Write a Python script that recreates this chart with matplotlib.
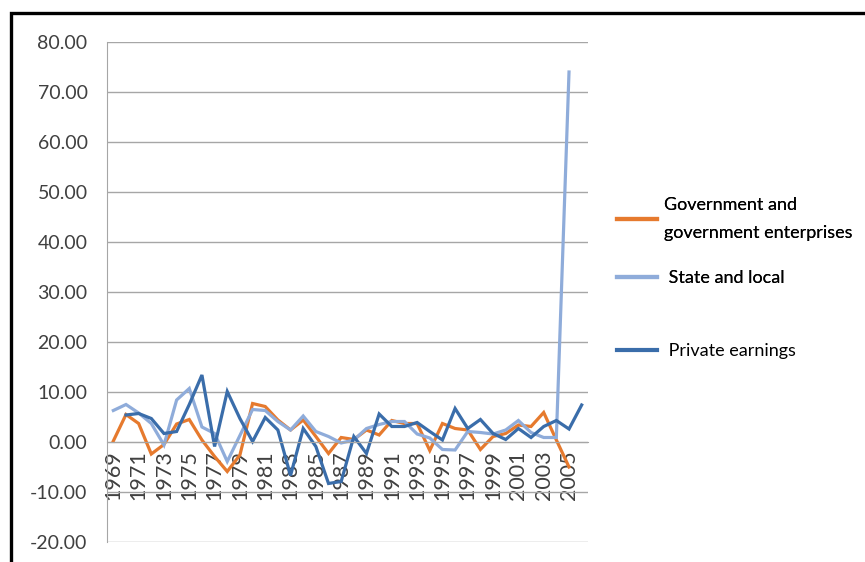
import numpy as np
import matplotlib
matplotlib.use('Agg')
import matplotlib.pyplot as plt
from matplotlib.patches import Rectangle
from matplotlib.lines import Line2D

years = list(range(1969, 2007))

government = [0.2, 5.5, 3.7, -2.4, -0.5, 3.6, 4.5, 0.4, -2.9, -5.9,
              -2.6, 7.7, 7.1, 4.4, 2.4, 4.4, 1.1, -2.3, 0.9, 0.5,
              2.4, 1.4, 4.3, 3.7, 3.7, -1.7, 3.7, 2.7, 2.4, -1.5,
              1.1, 1.7, 3.4, 3.1, 5.9, 0.4, -5.0]

state_local = [6.3, 7.5, 5.8, 3.7, -0.6, 8.4, 10.7, 3.0, 1.7, -3.9,
               1.3, 6.5, 6.3, 4.1, 2.4, 5.2, 2.1, 1.1, -0.2, 0.4,
               2.7, 3.5, 4.1, 4.1, 1.6, 0.8, -1.5, -1.6, 2.1, 1.9,
               1.6, 2.4, 4.3, 1.9, 0.9, 0.9, 74.0]

private = [np.nan, 5.4, 5.7, 4.7, 1.7, 2.1, 7.5, 13.4, -0.9, 10.1,
           4.7, 0.1, 4.9, 2.4, -6.7, 2.7, -0.9, -8.3, -7.9, 1.1,
           -2.3, 5.6, 3.1, 3.1, 3.9, 2.1, 0.4, 6.7, 2.7, 4.5,
           1.7, 0.5, 2.7, 0.9, 3.1, 4.3, 2.6, 7.4]

labels = ['Government and\ngovernment enterprises', ' State and local', ' Private earnings']
colors = ['#E67A2E', '#8FACDA', '#3A6DAA']
yticks = [-20, -10, 0, 10, 20, 30, 40, 50, 60, 70, 80]

font = ['Lato', 'DejaVu Sans']

fig = plt.figure(figsize=(8.65, 5.62), dpi=100)
ax = fig.add_axes([107 / 865, 1 - 542 / 562, 481 / 865, 500 / 562])

x = np.arange(len(years))
ax.plot(x[:len(government)], government, color=colors[0], lw=2.3, solid_joinstyle='miter')
ax.plot(x[:len(state_local)], state_local, color=colors[1], lw=2.3, solid_joinstyle='miter')
ax.plot(x[:len(private)], private, color=colors[2], lw=2.3, solid_joinstyle='miter')

# category axis crosses at zero, like the Excel original
ax.spines['bottom'].set_position(('data', 0))
ax.spines['bottom'].set_color('#A6A6A6')
ax.spines['left'].set_color('#A6A6A6')
ax.spines['top'].set_visible(False)
ax.spines['right'].set_visible(False)

ax.set_xlim(-0.5, len(years) - 0.5)
ax.set_ylim(-20, 80)
ax.set_yticks(yticks)
ax.set_yticklabels(['%.2f' % v for v in yticks], fontsize=14, family=font, color='#404040')
ax.yaxis.grid(True, color='#A6A6A6', lw=1.0)
ax.set_axisbelow(True)

ax.set_xticks(x[::2])
ax.set_xticklabels([str(y) for y in years[::2]], rotation=90, fontsize=15.5,
                   family=font, color='#404040', va='top', ha='center')
ax.tick_params(axis='y', length=0, pad=14)
ax.tick_params(axis='x', length=0, pad=6)

handles = [Line2D([], [], color=c, lw=3) for c in colors]
leg1 = fig.legend(handles[:2], labels[:2], loc='upper left', bbox_to_anchor=(608 / 865, 1 - 188 / 562),
                  frameon=False, prop={'family': font, 'size': 13}, handlelength=2.2,
                  handletextpad=0.4, labelspacing=1.6, borderpad=0)
leg1.get_texts()[0].set_linespacing(1.95)
fig.legend(handles[2:], labels[2:], loc='upper left', bbox_to_anchor=(608 / 865, 1 - 334 / 562),
           frameon=False, prop={'family': font, 'size': 13}, handlelength=2.2,
           handletextpad=0.4, borderpad=0)
fig.add_artist(leg1)

fig.add_artist(Rectangle((11 / 865, -0.1), 1.2, 1 - 13 / 562 + 0.1, transform=fig.transFigure,
                         fill=False, edgecolor='black', lw=2.4))

fig.savefig('out.png', dpi=100)
